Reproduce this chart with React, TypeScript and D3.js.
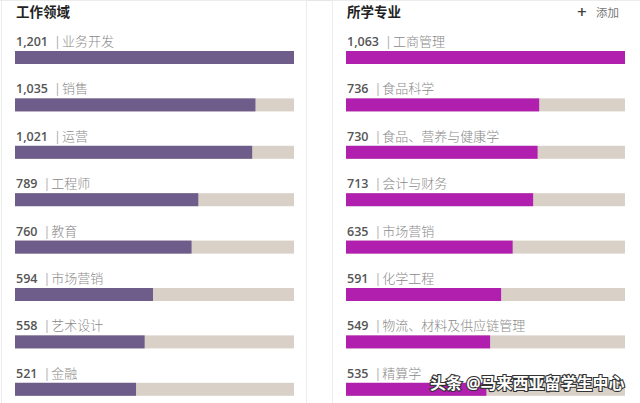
import React from "react";
import * as d3 from "d3";

const leftTitle = "工作领域";
const leftCategories = ["业务开发", "销售", "运营", "工程师", "教育", "市场营销", "艺术设计", "金融"];
const leftValues = [1201, 1035, 1021, 789, 760, 594, 558, 521];

const rightTitle = "所学专业";
const rightCategories = ["工商管理", "食品科学", "食品、营养与健康学", "会计与财务", "市场营销", "化学工程", "物流、材料及供应链管理", "精算学"];
const rightValues = [1063, 736, 730, 713, 635, 591, 549, 535];

const addLabel = "添加";
const watermark = "头条 @马来西亚留学生中心";

const W = 640;
const H = 403;
const FONT = "'Open Sans', 'Noto Sans CJK SC', sans-serif";

function Panel({ x0, x1, title, cats, vals, color, showAdd }: any) {
  const x = d3.scaleLinear().domain([0, d3.max(vals) as number]).range([x0, x1]);
  const y = d3.scaleBand().domain(cats).range([30, 30 + 8 * 47.4]).paddingInner(0);
  const fmt = d3.format(",");
  return (
    <g>
      <text x={x0 + 1} y={17} fontSize={13.5} fontWeight={700} fill="#222" fontFamily={FONT}>{title}</text>
      {showAdd && (
        <g>
          <text x={577} y={17.5} fontSize={17} fontWeight={600} fill="#444" fontFamily={FONT}>+</text>
          <text x={596} y={17} fontSize={11.5} fill="#777" fontFamily={FONT}>{addLabel}</text>
        </g>
      )}
      {cats.map((c: string, i: number) => {
        const by = (y(c) as number) + 21;
        return (
          <g key={c}>
            <text x={x0 + 1} y={by - 5} fontSize={12.5} fontFamily={FONT}>
              <tspan fill="#555" fontWeight={600}>{fmt(vals[i])}</tspan>
              <tspan fill="#aaa" dx={6}>|</tspan>
              <tspan fill="#8a8a8a" dx={1} fontSize={13} fontWeight={300}>{c}</tspan>
            </text>
            <rect x={x0} y={by} width={x1 - x0} height={13} fill="#d9d1c8" />
            <rect x={x0} y={by} width={x(vals[i]) - x0} height={13} fill={color} />
          </g>
        );
      })}
    </g>
  );
}

export default function App() {
  return (
    <svg width={W} height={H} style={{ position: "absolute", left: 0, top: 0, background: "#fff" }}>
      <rect x={0} y={0} width={W} height={H} fill="#fff" />
      <line x1={0} y1={0.5} x2={W} y2={0.5} stroke="#e6e6e6" />
      <rect x={1.5} y={0.5} width={305} height={H + 5} fill="none" stroke="#ececec" />
      <rect x={332.5} y={0.5} width={W} height={H + 5} fill="none" stroke="#ececec" />
      <Panel x0={15} x1={294} title={leftTitle} cats={leftCategories} vals={leftValues} color="#6e5c8a" />
      <Panel x0={346} x1={625} title={rightTitle} cats={rightCategories} vals={rightValues} color="#b11fae" showAdd />
      <text x={430} y={389} fontSize={16} fontWeight={700} fill="#fff" stroke="#333" strokeWidth={2.2} paintOrder="stroke" fontFamily={FONT}>{watermark}</text>
    </svg>
  );
}
